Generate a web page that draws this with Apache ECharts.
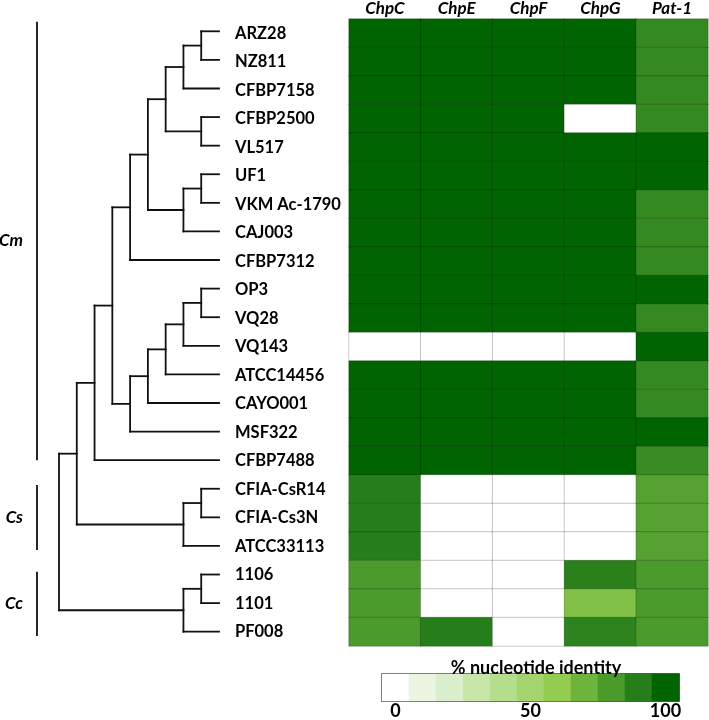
<!DOCTYPE html>
<html><head><meta charset="utf-8">
<script src="https://cdn.jsdelivr.net/npm/echarts@6/dist/echarts.min.js"></script>
<style>html,body{margin:0;padding:0;background:#fff}#c{width:709px;height:720px}</style>
</head><body><div id="c"></div>
<script>
// ---------- data ----------
const strains = ['ARZ28','NZ811','CFBP7158','CFBP2500','VL517','UF1','VKM Ac-1790','CAJ003','CFBP7312','OP3','VQ28','VQ143','ATCC14456','CAYO001','MSF322','CFBP7488','CFIA-CsR14','CFIA-Cs3N','ATCC33113','1106','1101','PF008'];
const genes = ['ChpC','ChpE','ChpF','ChpG','Pat-1'];
const chpC = [100,100,100,100,100,100,100,100,100,100,100,0,100,100,100,100,90,90,90,80,80,80];
const chpE = [100,100,100,100,100,100,100,100,100,100,100,0,100,100,100,100,0,0,0,0,0,90];
const chpF = [100,100,100,100,100,100,100,100,100,100,100,0,100,100,100,100,0,0,0,0,0,0];
const chpG = [100,100,100,0,100,100,100,100,100,100,100,0,100,100,100,100,0,0,0,89,65,88];
const pat1 = [86,86,86,86,100,100,86,86,86,100,86,100,86,86,100,85,77,77,77,80,80,80];
const legendBins = [0,10,20,30,40,50,60,70,80,90,100];
const legendTicks = ['0','50','100'];
const legendTitle = '% nucleotide identity';
const palette = ['#ffffff','#ebf5e0','#dbefcc','#c8e6aa','#b5de8c','#a4d46e','#92cd50','#6db33c','#4a9a2c','#267e1a','#006400'];
// cladogram topology (leaf indices into strains)
const cmUpperA = [[[0,1],2],[3,4]];
const cmUpperB = [[5,6],7];
const cmUpper = [[cmUpperA, cmUpperB], 8];
const cmLower = [[[[[9,10],11],12],13],14];
const cm = [[cmUpper, cmLower], 15];
const cs = [[16,17],18];
const cc = [[19,20],21];
const tree = [[cm, cs], cc];
const cladeNames = ['Cm','Cs','Cc'];
const cladeStart = [-0.33, 15.87, 18.9];
const cladeEnd = [15, 18.14, 21.15];

// ---------- build ----------
const FONT = 'Lato';
const geneValues = [chpC, chpE, chpF, chpG, pat1];
const heatData = [];
geneValues.forEach((arr, c) => arr.forEach((v, r) => heatData.push([c, r, v])));

const segs = [];
function layout(node) {
  if (typeof node === 'number') return {level: 0, y: node};
  const kids = node.map(layout);
  const level = Math.max(...kids.map(k => k.level)) + 1;
  const ys = kids.map(k => k.y);
  const y = (Math.min(...ys) + Math.max(...ys)) / 2;
  segs.push([level, Math.min(...ys), level, Math.max(...ys)]);
  kids.forEach(k => segs.push([level, k.y, k.level, k.y]));
  return {level, y};
}
const rootInfo = layout(tree);
const cladeData = cladeNames.map((n, i) => [cladeStart[i], cladeEnd[i], i]);

const chart = echarts.init(document.getElementById('c'), null, {renderer: 'canvas'});
const option = {
  backgroundColor: '#fff',
  animation: false,
  title: {
    text: legendTitle, left: 531, top: 654, textAlign: 'center',
    textStyle: {fontFamily: FONT, fontWeight: 'bold', fontSize: 18, color: '#000'}
  },
  grid: [
    {left: 59, width: 160, top: 17, height: 629},
    {left: 349, right: 1, top: 17, height: 629},
    {left: 382, width: 297, top: 674, height: 28, show: true, borderColor: '#222', borderWidth: 1.5}
  ],
  xAxis: [
    {gridIndex: 0, type: 'value', min: 0, max: rootInfo.level, inverse: true, show: false},
    {gridIndex: 1, type: 'category', data: genes, position: 'top',
      axisLine: {show: false}, axisTick: {show: false}, splitLine: {show: false},
      axisLabel: {margin: 2, fontFamily: FONT, fontWeight: 'bold', fontStyle: 'italic', fontSize: 17, color: '#000'}},
    {gridIndex: 2, type: 'category', data: legendBins.map(String), position: 'bottom',
      axisLine: {show: false}, axisTick: {show: false},
      axisLabel: {interval: 0, margin: 1, fontFamily: FONT, fontWeight: 'bold', fontSize: 18, color: '#000',
        formatter: v => legendTicks.includes(String(v)) ? String(v) : ''}}
  ],
  yAxis: [
    {gridIndex: 0, type: 'value', min: -0.5, max: strains.length - 0.5, inverse: true, show: false},
    {gridIndex: 1, type: 'category', data: strains, inverse: true,
      axisLine: {show: false}, axisTick: {show: false}, splitLine: {show: false},
      axisLabel: {interval: 0, margin: 114, align: 'left', fontFamily: FONT, fontWeight: 'bold', fontSize: 16.5, color: '#000'}},
    {gridIndex: 2, type: 'category', data: [''], show: false}
  ],
  visualMap: {
    type: 'continuous', show: false, min: 0, max: 100, seriesIndex: [2, 3],
    inRange: {color: palette}
  },
  series: [
    {
      type: 'custom', xAxisIndex: 0, yAxisIndex: 0, data: segs, encode: {x: [0, 2], y: [1, 3]}, silent: true,
      renderItem: (params, api) => {
        const p1 = api.coord([api.value(0), api.value(1)]);
        const p2 = api.coord([api.value(2), api.value(3)]);
        return {type: 'line', shape: {x1: p1[0], y1: p1[1], x2: p2[0], y2: p2[1]},
          style: {stroke: '#111', lineWidth: 1.8, lineCap: 'square'}};
      }
    },
    {
      type: 'custom', xAxisIndex: 0, yAxisIndex: 0, data: cladeData, encode: {y: [0, 1]}, silent: true, clip: false,
      renderItem: (params, api) => {
        const x = api.coord([rootInfo.level, 0])[0] - 22;
        const y1 = api.coord([0, api.value(0)])[1];
        const y2 = api.coord([0, api.value(1)])[1];
        return {type: 'group', children: [
          {type: 'line', shape: {x1: x, y1: y1, x2: x, y2: y2}, style: {stroke: '#111', lineWidth: 1.8}},
          {type: 'text', x: x - 14, y: (y1 + y2) / 2,
            style: {text: cladeNames[api.value(2)], font: 'italic bold 17px ' + FONT, fill: '#000', align: 'right', verticalAlign: 'middle'}}
        ]};
      }
    },
    {
      type: 'heatmap', xAxisIndex: 1, yAxisIndex: 1, data: heatData,
      itemStyle: {borderColor: 'rgba(0,0,0,0.2)', borderWidth: 1},
      emphasis: {disabled: true}
    },
    {
      type: 'heatmap', xAxisIndex: 2, yAxisIndex: 2,
      data: legendBins.map((v, i) => [i, 0, v]),
      emphasis: {disabled: true}
    }
  ]
};
chart.setOption(option);
</script>
</body></html>
